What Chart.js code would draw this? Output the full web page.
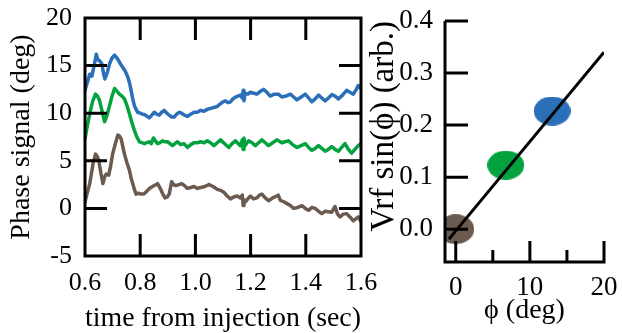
<!DOCTYPE html>
<html>
<head>
<meta charset="utf-8">
<script src="https://cdn.jsdelivr.net/npm/chart.js@4.4.1/dist/chart.umd.min.js"></script>
<style>
  html, body { margin: 0; padding: 0; background: #fff; }
  #wrap { position: relative; width: 622px; height: 333px; overflow: hidden; }
  canvas { position: absolute; top: 0; }
  #left { left: 0; }
  #right { left: 360px; }
</style>
</head>
<body>
<div id="wrap">
  <canvas id="left" width="380" height="333" style="width:380px;height:333px"></canvas>
  <canvas id="right" width="262" height="333" style="width:262px;height:333px"></canvas>
</div>
<script>
// ---------------- data: left panel (phase signal vs time) ----------------
const blueTime = [0.600,0.608,0.617,0.625,0.633,0.641,0.647,0.653,0.661,0.667,0.672,0.680,0.689,0.698,0.707,0.718,0.728,0.737,0.746,0.755,0.761,0.767,0.773,0.779,0.785,0.791,0.800,0.808,0.815,0.824,0.833,0.842,0.851,0.860,0.869,0.878,0.887,0.896,0.905,0.914,0.923,0.932,0.942,0.950,0.960,0.971,0.983,0.995,1.007,1.019,1.031,1.043,1.055,1.067,1.079,1.091,1.100,1.109,1.118,1.127,1.136,1.145,1.154,1.163,1.170,1.173,1.176,1.180,1.190,1.199,1.211,1.223,1.235,1.247,1.259,1.271,1.286,1.301,1.313,1.328,1.344,1.356,1.368,1.383,1.398,1.410,1.422,1.434,1.446,1.458,1.470,1.482,1.494,1.506,1.518,1.533,1.548,1.560,1.572,1.581,1.590,1.600];
const blueValues = [12.4,13.2,14.1,13.9,15.0,16.2,15.6,15.5,15.2,14.2,13.6,14.2,15.2,15.8,16.1,15.7,15.2,14.8,14.4,13.8,13.2,12.4,11.5,10.8,10.4,10.1,10.0,9.9,9.87,9.7,9.5,9.8,10.1,9.9,9.8,10.1,10.3,10.0,9.8,9.6,9.6,9.9,10.1,10.0,9.8,9.66,9.9,10.1,10.1,10.3,10.2,10.4,10.5,10.6,10.7,11.0,11.2,11.3,11.1,11.2,11.5,11.7,11.8,11.9,11.6,12.4,11.3,12.1,12.0,12.2,12.1,12.0,12.3,12.5,12.2,11.8,12.0,12.0,11.7,11.8,12.0,11.7,11.4,11.7,12.0,11.6,11.2,11.5,11.9,11.6,11.3,11.6,11.95,11.8,11.5,11.9,12.4,12.2,12.0,12.4,12.9,12.6];

const greenTime = [0.600,0.608,0.617,0.627,0.638,0.645,0.653,0.662,0.671,0.680,0.689,0.698,0.707,0.716,0.725,0.734,0.743,0.752,0.761,0.770,0.779,0.788,0.797,0.806,0.815,0.824,0.833,0.840,0.848,0.855,0.863,0.872,0.881,0.890,0.899,0.908,0.917,0.926,0.935,0.947,0.959,0.971,0.983,0.995,1.007,1.019,1.031,1.043,1.055,1.067,1.079,1.091,1.106,1.121,1.133,1.145,1.155,1.163,1.170,1.173,1.176,1.180,1.193,1.205,1.217,1.229,1.241,1.253,1.265,1.280,1.295,1.313,1.325,1.337,1.352,1.368,1.383,1.398,1.410,1.422,1.434,1.446,1.458,1.470,1.482,1.494,1.506,1.518,1.530,1.542,1.554,1.566,1.578,1.590,1.600];
const greenValues = [7.3,8.6,9.9,11.2,12.0,11.8,11.3,10.2,9.1,9.8,10.8,11.8,12.6,12.3,12.0,11.8,11.5,10.8,9.95,9.0,8.2,7.5,7.0,6.9,6.8,6.9,7.0,6.8,7.4,7.1,6.8,6.9,7.1,7.0,7.0,6.8,6.6,6.8,7.0,6.7,6.8,6.4,6.7,6.9,6.9,7.0,6.9,7.1,6.9,6.6,6.9,7.2,6.8,6.4,6.8,7.1,6.8,6.6,7.2,6.2,7.4,6.6,7.1,6.9,6.6,6.9,7.2,6.9,6.6,6.9,7.2,6.9,7.0,7.1,6.7,6.4,6.6,6.8,6.4,6.1,6.3,6.6,6.3,6.0,6.2,6.5,6.2,6.0,6.4,6.8,6.2,5.8,6.2,6.6,6.8];

const brownTime = [0.600,0.608,0.617,0.623,0.629,0.638,0.644,0.650,0.657,0.665,0.671,0.677,0.686,0.693,0.700,0.710,0.719,0.725,0.731,0.737,0.743,0.752,0.761,0.767,0.773,0.779,0.785,0.794,0.803,0.812,0.821,0.830,0.839,0.851,0.863,0.869,0.875,0.882,0.890,0.898,0.905,0.910,0.914,0.921,0.929,0.940,0.950,0.960,0.971,0.983,0.995,1.007,1.019,1.034,1.049,1.064,1.079,1.091,1.103,1.115,1.127,1.139,1.151,1.163,1.170,1.173,1.176,1.181,1.190,1.199,1.211,1.223,1.232,1.241,1.253,1.265,1.280,1.295,1.300,1.308,1.320,1.332,1.344,1.356,1.371,1.386,1.398,1.410,1.422,1.434,1.446,1.458,1.470,1.482,1.494,1.506,1.515,1.524,1.536,1.548,1.560,1.572,1.581,1.590,1.600];
const brownValues = [0.7,1.6,2.6,3.6,4.7,5.7,5.5,5.0,3.8,2.6,3.3,3.6,3.5,4.5,5.7,6.8,7.7,7.6,7.3,6.5,5.7,4.8,4.0,3.2,2.6,2.0,1.5,1.6,1.5,1.5,1.7,2.0,2.2,2.4,2.6,2.3,1.95,1.5,1.1,1.2,1.5,2.2,2.8,2.5,2.4,2.5,2.6,2.4,2.1,2.2,2.3,2.1,2.2,2.3,2.5,2.3,2.0,1.9,1.7,1.3,1.0,1.2,1.3,1.1,1.4,0.3,0.9,0.7,1.0,1.3,1.0,1.1,1.4,1.5,1.1,0.8,1.1,1.3,1.4,0.85,0.7,0.5,0.3,0.0,0.1,0.3,0.0,-0.2,0.1,0.0,-0.3,-0.55,-0.3,-0.35,-0.4,0.2,-0.6,-0.9,-0.6,-0.55,-0.9,-1.3,-1.1,-0.9,-1.4];

const leftXTicks = [0.6, 0.8, 1.0, 1.2, 1.4, 1.6];
const leftYTicks = [-5, 0, 5, 10, 15, 20];

// ---------------- data: right panel (Vrf sin(phi) vs phi) ----------------
const pointPhi = [0, 6.75, 13.0];
const pointVrf = [0.0, 0.123, 0.227];
const fitPhi = [-0.92, 20];
const fitVrf = [-0.019, 0.34];
const rightXTicks = [0, 5, 10, 15, 20];
const rightXLabelled = [0, 10, 20];
const rightYTicks = [0.0, 0.1, 0.2, 0.3, 0.4];

// ---------------- styling ----------------
const BLUE = '#2a6fb7';
const GREEN = '#04a23f';
const BROWN = '#6b5a4f';
const SERIF = "'Liberation Serif', 'Times New Roman', serif";
Chart.defaults.font.family = SERIF;
Chart.defaults.color = '#000';

const toXY = (xs, ys) => xs.map((x, i) => ({ x: x, y: ys[i] }));

// inward tick marks + frame drawn through the chart's own scales
function makeFrame(cfg) {
  return {
    id: 'frame_' + cfg.name,
    afterDraw(chart) {
      const ctx = chart.ctx, a = chart.chartArea;
      const ys = chart.scales.y, xs = chart.scales.x;
      ctx.save();
      ctx.strokeStyle = '#000';
      ctx.lineWidth = 3;
      ctx.lineCap = 'butt';
      ctx.beginPath();
      if (cfg.box) {
        ctx.rect(a.left, a.top, a.right - a.left, a.bottom - a.top);
      } else {
        ctx.moveTo(a.left, a.top);
        ctx.lineTo(a.left, a.bottom);
        ctx.lineTo(a.right + 1.5, a.bottom);
      }
      for (const t of ys.ticks) {
        const p = ys.getPixelForValue(t.value);
        ctx.moveTo(a.left, p); ctx.lineTo(a.left + cfg.yLen, p);
        if (cfg.box) { ctx.moveTo(a.right, p); ctx.lineTo(a.right - cfg.yLen, p); }
      }
      for (const t of xs.ticks) {
        const p = xs.getPixelForValue(t.value);
        const len = (cfg.major && cfg.major.indexOf(t.value) < 0) ? cfg.minorLen : cfg.xLen;
        ctx.moveTo(p, a.bottom); ctx.lineTo(p, a.bottom - len);
        if (cfg.box) { ctx.moveTo(p, a.top); ctx.lineTo(p, a.top + len); }
      }
      ctx.stroke();
      ctx.restore();
    }
  };
}

const noPadX = h => s => { s.height = h; s.paddingLeft = 0; s.paddingRight = 0; };
const noPadY = w => s => { s.width = w; s.paddingTop = 0; s.paddingBottom = 0; };

// ---------------- left chart ----------------
new Chart(document.getElementById('left'), {
  type: 'line',
  data: {
    datasets: [
      { data: toXY(blueTime, blueValues), borderColor: BLUE, borderWidth: 3.5, borderJoinStyle: 'round', borderCapStyle: 'round', pointRadius: 0, tension: 0 },
      { data: toXY(greenTime, greenValues), borderColor: GREEN, borderWidth: 3.5, borderJoinStyle: 'round', borderCapStyle: 'round', pointRadius: 0, tension: 0 },
      { data: toXY(brownTime, brownValues), borderColor: BROWN, borderWidth: 3.5, borderJoinStyle: 'round', borderCapStyle: 'round', pointRadius: 0, tension: 0 }
    ]
  },
  plugins: [makeFrame({ name: 'left', box: true, xLen: 22, yLen: 22 })],
  options: {
    responsive: false, animation: false, devicePixelRatio: 1,
    layout: { padding: { top: 18, right: 19, left: 0, bottom: 0 } },
    plugins: { legend: { display: false }, tooltip: { enabled: false } },
    scales: {
      x: {
        type: 'linear', min: 0.6, max: 1.6,
        afterBuildTicks: s => { s.ticks = leftXTicks.map(v => ({ value: v })); },
        afterFit: noPadX(77),
        grid: { display: false, drawTicks: false },
        border: { display: false },
        ticks: { font: { family: SERIF, size: 26 }, color: '#000', padding: 12, maxRotation: 0, autoSkip: false, callback: v => Number(v).toFixed(1) },
        title: { display: true, text: 'time from injection (sec)', font: { family: SERIF, size: 28, lineHeight: 1 }, color: '#000', padding: { top: 0, bottom: 0 } }
      },
      y: {
        type: 'linear', min: -5, max: 20,
        afterBuildTicks: s => { s.ticks = leftYTicks.map(v => ({ value: v })); },
        afterFit: noPadY(85),
        grid: { display: false, drawTicks: false },
        border: { display: false },
        ticks: { font: { family: SERIF, size: 26 }, color: '#000', padding: 13, callback: v => String(v) },
        title: { display: true, text: 'Phase signal (deg)', font: { family: SERIF, size: 28, lineHeight: 1 }, color: '#000', padding: { top: 8, bottom: 0 } }
      }
    }
  }
});

// ---------------- right chart ----------------
function ellipseImage(color, w, h) {
  const c = document.createElement('canvas');
  c.width = w; c.height = h;
  const g = c.getContext('2d');
  g.fillStyle = color;
  g.beginPath();
  g.ellipse(w / 2, h / 2, w / 2, h / 2, 0, 0, Math.PI * 2);
  g.fill();
  return c;
}
const pointImages = [ellipseImage(BROWN, 37, 30), ellipseImage(GREEN, 37, 29), ellipseImage(BLUE, 37, 29)];

new Chart(document.getElementById('right'), {
  type: 'scatter',
  data: {
    datasets: [
      { type: 'line', data: toXY(fitPhi, fitVrf), borderColor: '#000', borderWidth: 3, pointRadius: 0, tension: 0 },
      { type: 'scatter', data: toXY(pointPhi, pointVrf), pointStyle: pointImages, pointRadius: 18, borderWidth: 0 }
    ]
  },
  plugins: [makeFrame({ name: 'right', box: false, xLen: 21, minorLen: 12, yLen: 23, major: rightXLabelled })],
  options: {
    responsive: false, animation: false, devicePixelRatio: 1,
    layout: { padding: { top: 21, right: 14, left: 0, bottom: 0 } },
    plugins: { legend: { display: false }, tooltip: { enabled: false } },
    scales: {
      x: {
        type: 'linear', min: -1.45, max: 20,
        afterBuildTicks: s => { s.ticks = rightXTicks.map(v => ({ value: v })); },
        afterFit: noPadX(71),
        grid: { display: false, drawTicks: false },
        border: { display: false },
        ticks: { font: { family: SERIF, size: 27 }, color: '#000', padding: 10, maxRotation: 0, autoSkip: false,
                 callback: v => rightXLabelled.indexOf(v) >= 0 ? String(v) : '' },
        title: { display: true, text: 'ϕ (deg)', font: { family: SERIF, size: 28, lineHeight: 1 }, color: '#000', padding: { top: 0, bottom: 8 } }
      },
      y: {
        type: 'linear', min: -0.063, max: 0.4,
        afterBuildTicks: s => { s.ticks = rightYTicks.map(v => ({ value: v })); },
        afterFit: noPadY(85),
        grid: { display: false, drawTicks: false },
        border: { display: false },
        ticks: { font: { family: SERIF, size: 27 }, color: '#000', padding: 12, callback: v => Number(v).toFixed(1) },
        title: { display: true, text: 'Vrf sin(ϕ) (arb.)', align: 'end', font: { family: SERIF, size: 33, lineHeight: 1 }, color: '#000', padding: { top: 8, bottom: 0 } }
      }
    }
  }
});
</script>
</body>
</html>
